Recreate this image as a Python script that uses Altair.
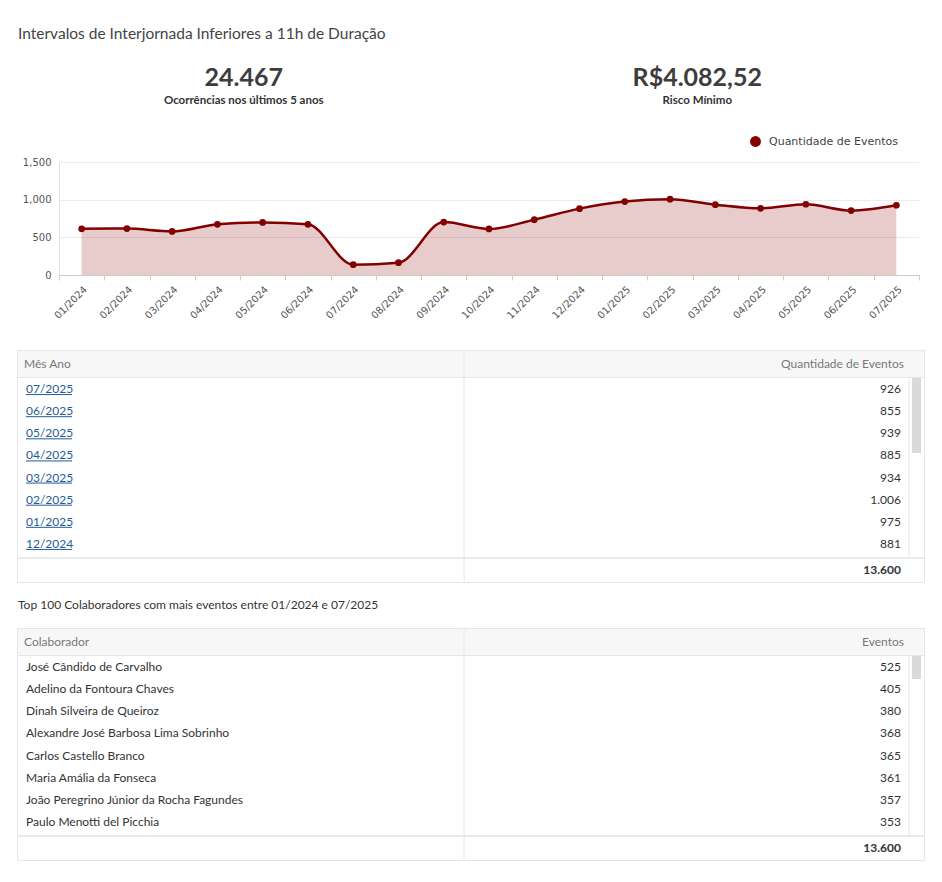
import altair as alt
import pandas as pd

W = 907
LINE = "#e6e6e6"

titulo = "Intervalos de Interjornada Inferiores a 11h de Duração"
kpi_valores = ["24.467", "R$4.082,52"]
kpi_rotulos = ["Ocorrências nos últimos 5 anos", "Risco Mínimo"]

serie = "Quantidade de Eventos"
meses = ["01/2024", "02/2024", "03/2024", "04/2024", "05/2024", "06/2024",
         "07/2024", "08/2024", "09/2024", "10/2024", "11/2024", "12/2024",
         "01/2025", "02/2025", "03/2025", "04/2025", "05/2025", "06/2025", "07/2025"]
eventos = [613, 616, 578, 673, 698, 673, 137, 163, 703, 611, 734, 881,
           975, 1006, 934, 885, 939, 855, 926]

colunas_mes = ["Mês Ano", "Quantidade de Eventos"]
linhas_visiveis = 8

subtitulo = "Top 100 Colaboradores com mais eventos entre 01/2024 e 07/2025"
colunas_colab = ["Colaborador", "Eventos"]
colaboradores = ["José Cândido de Carvalho", "Adelino da Fontoura Chaves",
                 "Dinah Silveira de Queiroz", "Alexandre José Barbosa Lima Sobrinho",
                 "Carlos Castello Branco", "Maria Amália da Fonseca",
                 "João Peregrino Júnior da Rocha Fagundes", "Paulo Menotti del Picchia"]
eventos_colab = [525, 405, 380, 368, 365, 361, 357, 353]
total_colab = 13600
n_colab = 100

KPI_H = 80
GAP1 = 37


def br(n):
    return f"{n:,}".replace(",", ".")


def espaco(h):
    return alt.Chart(pd.DataFrame({"v": [0]})).mark_point(opacity=0).properties(width=W, height=h)


# ---------- KPI panel ----------
kpi_df = pd.DataFrame({"rotulo": kpi_rotulos, "valor": kpi_valores})
kx = alt.X("rotulo:N", sort=None, axis=None, scale=alt.Scale(paddingInner=0, paddingOuter=0))
kpi = alt.layer(
    alt.Chart(kpi_df).mark_text(font="Lato", fontSize=25, fontWeight="bold", color="#3d3d3d",
                                baseline="alphabetic", dy=1).encode(x=kx, text="valor:N"),
    alt.Chart(kpi_df).mark_text(font="Lato", fontSize=11.5, fontWeight="bold", color="#333333",
                                baseline="alphabetic", dy=19).encode(x=kx, text="rotulo:N"),
).properties(
    width=W, height=KPI_H,
    title=alt.TitleParams(titulo, anchor="start", font="Lato", fontSize=15.5, fontWeight="normal",
                          color="#444444", offset=3, dx=1),
)

# ---------- line chart ----------
df = pd.DataFrame({"mes": meses, "qtd": eventos, "serie": serie})
x = alt.X("mes:N", sort=meses, title=None,
          scale=alt.Scale(paddingInner=0, paddingOuter=0, range=[42, 902]),
          axis=alt.Axis(labelAngle=-45, labelFont="DejaVu Sans", labelFontSize=10, labelColor="#555555",
                        tickBand="extent", tickColor="#cccccc", tickSize=5, domainColor="#cccccc",
                        grid=False, labelPadding=4))
y = alt.Y("qtd:Q", title=None, scale=alt.Scale(domain=[0, 1500], nice=False),
          axis=alt.Axis(values=[0, 500, 1000, 1500], format=",d", labelFont="DejaVu Sans", labelFontSize=10,
                        labelColor="#555555", ticks=False, labelPadding=8, gridColor="#ebebeb",
                        domainColor="#e0e0e0", offset=-42))
base = alt.Chart(df).encode(x=x, y=y)
area = base.mark_area(color="#8b0000", opacity=0.2, interpolate="monotone")
linha = base.mark_line(color="#830000", strokeWidth=2.5, interpolate="monotone")
pontos = base.mark_point(filled=True, size=45, opacity=1).encode(
    color=alt.Color("serie:N", scale=alt.Scale(range=["#830000"]),
                    legend=alt.Legend(title=None, orient="none", legendX=732, legendY=KPI_H + GAP1 - 27,
                                      symbolType="circle", symbolSize=120, labelFont="DejaVu Sans",
                                      labelFontSize=11, labelColor="#444444", labelOffset=7))
)
grafico = alt.layer(area, linha, pontos).properties(width=W, height=113)


# ---------- tables ----------
def tabela(colunas, rotulos, valores, total, n_linhas, link=False, titulo_tab=None):
    cx = alt.Scale(domain=colunas, range=[0, 894], paddingInner=0, paddingOuter=0)

    def xd(c, bp):
        return alt.XDatum(c, type="nominal", bandPosition=bp, scale=cx, axis=None)

    def x2d(c, bp):
        return alt.X2Datum(c, bandPosition=bp)

    txt = dict(font="Lato", fontSize=12, baseline="middle")

    hdf = pd.DataFrame({"col": colunas})
    props = dict(width=W, height=27,
                 view=alt.ViewBackground(fill="#f7f7f7", stroke=LINE, strokeWidth=1))
    if titulo_tab:
        props["title"] = alt.TitleParams(titulo_tab, anchor="start", font="Lato", fontSize=12,
                                         fontWeight="normal", color="#333333", offset=16, dx=1)
    header = alt.layer(
        alt.Chart(hdf).transform_filter(alt.datum.col == colunas[0])
        .mark_text(align="left", dx=7, color="#777777", **txt).encode(x=xd(colunas[0], 0), text="col:N"),
        alt.Chart(hdf).transform_filter(alt.datum.col == colunas[1])
        .mark_text(align="right", dx=-7, color="#777777", **txt).encode(x=xd(colunas[1], 1), text="col:N"),
        alt.Chart(hdf.head(1)).mark_rule(color=LINE).encode(x=xd(colunas[1], 0)),
    ).properties(**props)

    bdf = pd.DataFrame({"rotulo": rotulos[:linhas_visiveis],
                        "valor": [br(v) for v in valores[:linhas_visiveis]]})
    ys = alt.Y("rotulo:N", sort=None, axis=None,
               scale=alt.Scale(range=[1, 178], paddingInner=0, paddingOuter=0))
    cor = "#1f5c99" if link else "#333333"
    thumb = max(24, round(181 * linhas_visiveis / n_linhas))
    camadas = [
        alt.Chart(bdf).mark_text(align="left", dx=9, color=cor, **txt)
        .encode(x=xd(colunas[0], 0), y=ys, text="rotulo:N"),
        alt.Chart(bdf).mark_text(align="right", dx=-10, color="#333333", **txt)
        .encode(x=xd(colunas[1], 1), y=ys, text="valor:N"),
        alt.Chart(bdf.head(1)).mark_rule(color=LINE).encode(x=xd(colunas[1], 0)),
        alt.Chart(bdf.head(1)).mark_rule(color=LINE, xOffset=-2).encode(x=xd(colunas[1], 1)),
        alt.Chart(bdf.head(1)).mark_rect(color="#dadada", xOffset=1, x2Offset=10)
        .encode(x=xd(colunas[1], 1), x2=x2d(colunas[1], 1), y=alt.value(1), y2=alt.value(thumb)),
    ]
    if link:
        camadas.append(
            alt.Chart(bdf).mark_rule(color=cor, strokeWidth=1, xOffset=9, x2Offset=55, yOffset=5.5)
            .encode(x=xd(colunas[0], 0), x2=x2d(colunas[0], 0), y=ys)
        )
    body = alt.layer(*camadas).properties(
        width=W, height=181, view=alt.ViewBackground(fill="white", stroke=LINE, strokeWidth=1))

    fdf = pd.DataFrame({"total": [br(total)]})
    footer = alt.layer(
        alt.Chart(fdf).mark_rule(color="#e9e9e9", strokeWidth=2).encode(y=alt.value(0)),
        alt.Chart(fdf).mark_rule(color=LINE).encode(x=xd(colunas[1], 0)),
        alt.Chart(fdf).mark_text(align="right", dx=-10, fontWeight="bold", color="#333333", **txt)
        .encode(x=xd(colunas[1], 1), text="total:N"),
    ).properties(width=W, height=24, view=alt.ViewBackground(fill="white", stroke=LINE, strokeWidth=1))
    return [header, body, footer]


meses_desc = meses[::-1]
eventos_desc = eventos[::-1]
tab1 = tabela(colunas_mes, meses_desc, eventos_desc, sum(eventos), len(meses), link=True)
tab2 = tabela(colunas_colab, colaboradores, eventos_colab, total_colab, n_colab, titulo_tab=subtitulo)

chart = alt.vconcat(
    kpi, espaco(GAP1), grafico, espaco(75), *tab1, espaco(46), *tab2,
    spacing=0, bounds="flush",
).properties(
    padding={"left": 7, "top": 18, "right": 0, "bottom": 0},
    background="white",
).configure_view(strokeWidth=0)

chart.save("out.html", embed_options={"renderer": "svg", "actions": False})
